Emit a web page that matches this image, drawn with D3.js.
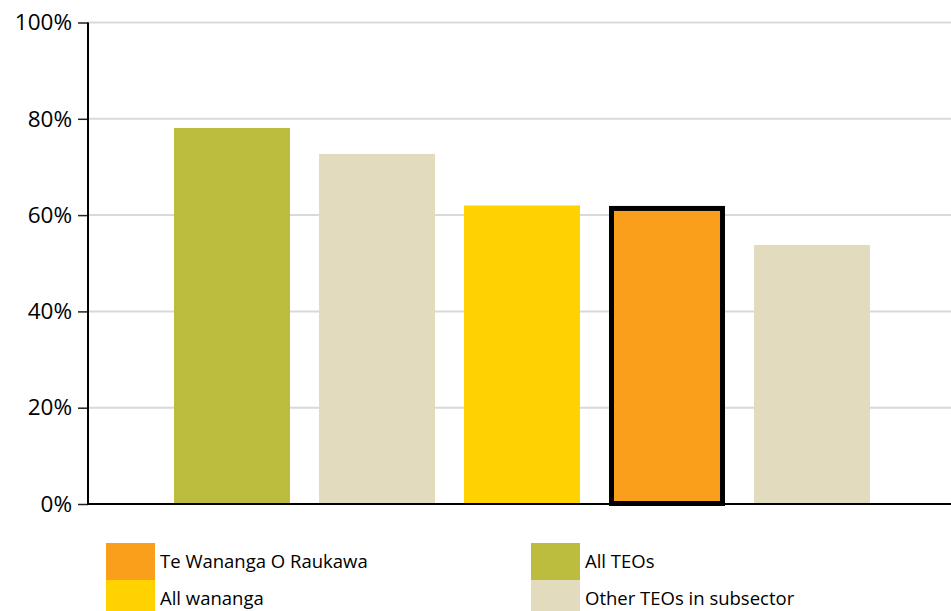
<!DOCTYPE html>
<html><head><meta charset="utf-8">
<script src="https://cdn.jsdelivr.net/npm/d3@7"></script>
<style>body{margin:0;background:#fff}svg{display:block}</style>
</head><body>
<script>
const categories = ["All TEOs", "Other TEOs in subsector A", "All wananga", "Te Wananga O Raukawa", "Other TEOs in subsector B"];
const values = [78.1, 72.7, 62.0, 61.9, 53.8];
const barColors = ["#bcbd3e", "#e2dbbd", "#ffd200", "#f99f1b", "#e2dbbd"];
const highlighted = [false, false, false, true, false];
const tickValues = [0, 20, 40, 60, 80, 100];
const legendLabels = ["Te Wananga O Raukawa", "All wananga", "All TEOs", "Other TEOs in subsector"];
const legendColors = ["#f99f1b", "#ffd200", "#bcbd3e", "#e2dbbd"];

const W = 951, H = 611;
const svg = d3.select("body").append("svg").attr("width", W).attr("height", H);
const font = "'Open Sans', sans-serif";

const y = d3.scaleLinear().domain([0, 100]).range([504, 22.5]);
const x = d3.scaleBand().domain(categories).range([159.5, 884.5]).paddingInner(0.2).paddingOuter(0.1);
const axisX = 88;

// gridlines
svg.append("g").selectAll("line").data(tickValues.filter(d => d > 0)).join("line")
  .attr("x1", axisX).attr("x2", W).attr("y1", d => y(d)).attr("y2", d => y(d))
  .attr("stroke", "#d9d9d9").attr("stroke-width", 2);

// bars
const bars = svg.append("g");
categories.forEach((c, i) => {
  if (highlighted[i]) {
    bars.append("rect")
      .attr("x", x(c) + 2.5).attr("y", y(values[i]) + 2.5)
      .attr("width", x.bandwidth() - 5).attr("height", y(0) - y(values[i]) - 3)
      .attr("fill", barColors[i]).attr("stroke", "#000").attr("stroke-width", 5);
  } else {
    bars.append("rect")
      .attr("x", x(c)).attr("y", y(values[i]))
      .attr("width", x.bandwidth()).attr("height", y(0) - y(values[i]))
      .attr("fill", barColors[i]);
  }
});

// y axis
const yAxis = d3.axisLeft(y).tickValues(tickValues).tickFormat(d => d + "%").tickSize(10).tickPadding(6);
const ga = svg.append("g").attr("transform", `translate(${axisX},0)`).call(yAxis);
ga.select(".domain").remove();
ga.selectAll(".tick line").attr("stroke", "#222").attr("stroke-width", 1.5);
ga.selectAll(".tick text").attr("font-family", font).attr("font-size", 22.5).attr("fill", "#000");
svg.append("line").attr("x1", axisX).attr("x2", axisX).attr("y1", y(100)).attr("y2", y(0) + 1)
  .attr("stroke", "#000").attr("stroke-width", 2);
svg.append("line").attr("x1", axisX - 1).attr("x2", W).attr("y1", y(0)).attr("y2", y(0))
  .attr("stroke", "#000").attr("stroke-width", 2);

// legend
const lg = svg.append("g");
legendLabels.forEach((l, i) => {
  const col = Math.floor(i / 2), row = i % 2;
  const lx = col === 0 ? 106 : 531;
  const ly = 543 + row * 37;
  lg.append("rect").attr("x", lx).attr("y", ly).attr("width", 49).attr("height", 37).attr("fill", legendColors[i]);
  lg.append("text").attr("x", lx + 54).attr("y", ly + 25).text(l)
    .attr("font-family", font).attr("font-size", 18.5).attr("fill", "#000");
});
</script>
</body></html>
